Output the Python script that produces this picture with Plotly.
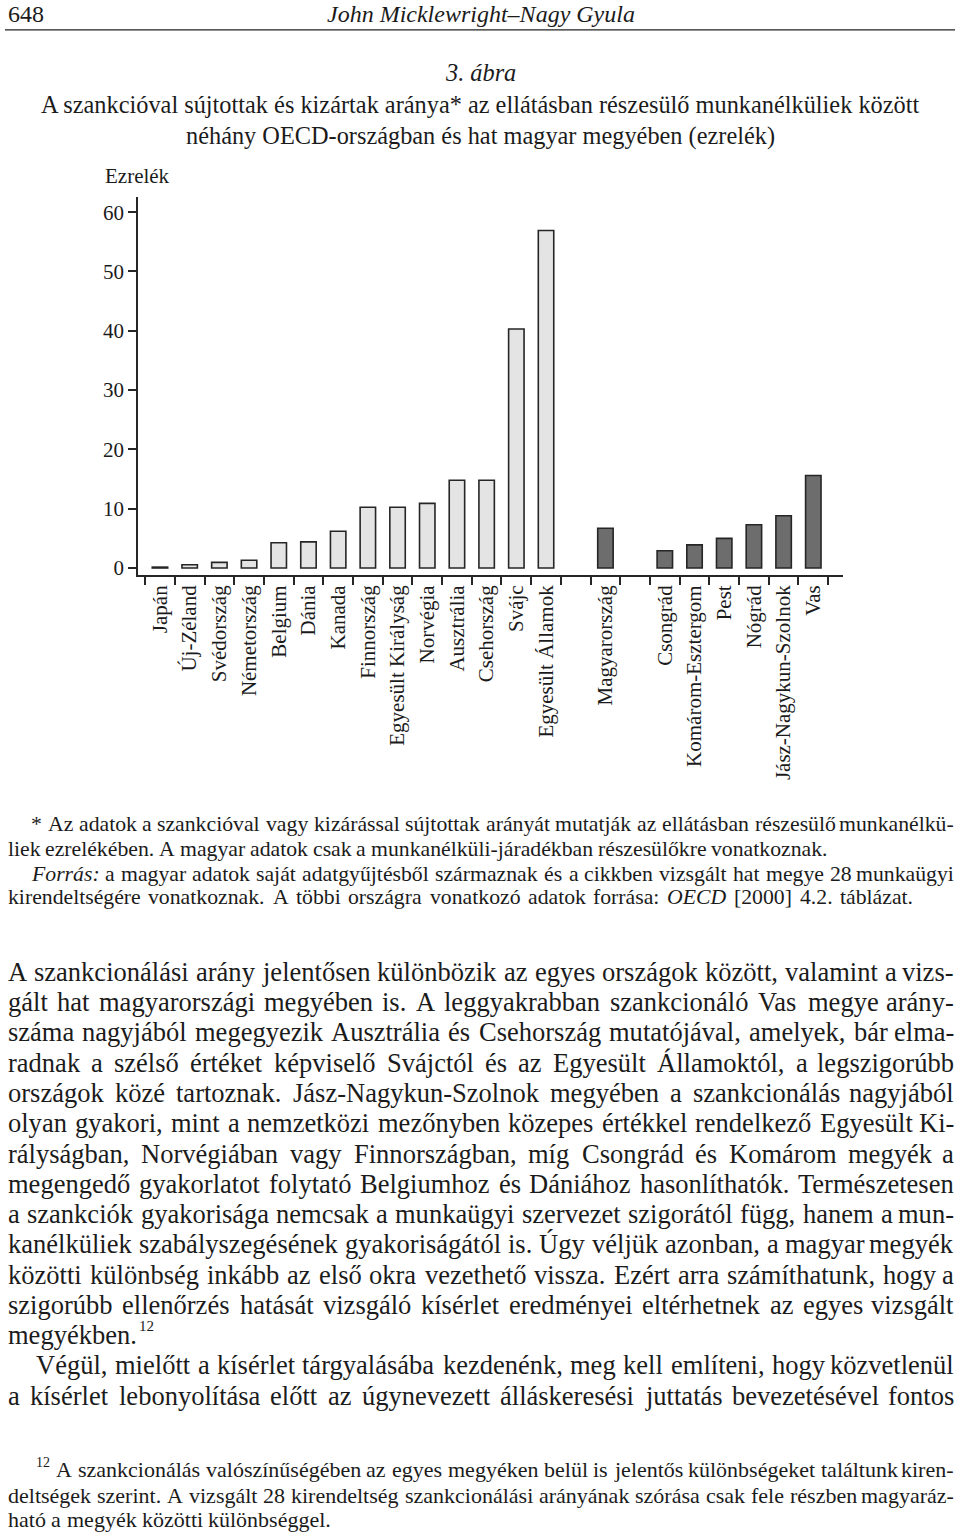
import unicodedata
import plotly.graph_objects as go

PAGE_W, PAGE_H = 960, 1537

# ---------------- chart data ----------------
countries = ["Japán", "Új-Zéland", "Svédország", "Németország", "Belgium", "Dánia",
             "Kanada", "Finnország", "Egyesült Királyság", "Norvégia", "Ausztrália",
             "Csehország", "Svájc", "Egyesült Államok"]
country_vals = [0.15, 0.55, 0.95, 1.3, 4.25, 4.4, 6.2, 10.25, 10.25, 10.9, 14.8, 14.8, 40.3, 56.9]

hungary = ["Magyarország"]
hungary_vals = [6.7]

counties = ["Csongrád", "Komárom-Esztergom", "Pest", "Nógrád", "Jász-Nagykun-Szolnok", "Vas"]
county_vals = [2.9, 3.9, 5.0, 7.3, 8.8, 15.6]

spacers = [" ", "  "]
category_order = countries + [spacers[0]] + hungary + [spacers[1]] + counties
y_ticks = [0, 10, 20, 30, 40, 50, 60]

# ---------------- page text ----------------
header_page = "648"
header_author = "John Micklewright–Nagy Gyula"
fig_no = "3. ábra"
title_lines = ["A szankcióval sújtottak és kizártak aránya* az ellátásban részesülő munkanélküliek között",
               "néhány OECD-országban és hat magyar megyében (ezrelék)"]
y_label = "Ezrelék"

note_lines = [
    "* Az adatok a szankcióval vagy kizárással sújtottak arányát mutatják az ellátásban részesülő munkanélkü-",
    "liek ezrelékében. A magyar adatok csak a munkanélküli-járadékban részesülőkre vonatkoznak.",
    "_Forrás:_ a magyar adatok saját adatgyűjtésből származnak és a cikkben vizsgált hat megye 28 munkaügyi",
    "kirendeltségére vonatkoznak. A többi országra vonatkozó adatok forrása: _OECD_ [2000] 4.2. táblázat.",
]
body_lines = [
    "A szankcionálási arány jelentősen különbözik az egyes országok között, valamint a vizs-",
    "gált hat magyarországi megyében is. A leggyakrabban szankcionáló Vas megye arány-",
    "száma nagyjából megegyezik Ausztrália és Csehország mutatójával, amelyek, bár elma-",
    "radnak a szélső értéket képviselő Svájctól és az Egyesült Államoktól, a legszigorúbb",
    "országok közé tartoznak. Jász-Nagykun-Szolnok megyében a szankcionálás nagyjából",
    "olyan gyakori, mint a nemzetközi mezőnyben közepes értékkel rendelkező Egyesült Ki-",
    "rályságban, Norvégiában vagy Finnországban, míg Csongrád és Komárom megyék a",
    "megengedő gyakorlatot folytató Belgiumhoz és Dániához hasonlíthatók. Természetesen",
    "a szankciók gyakorisága nemcsak a munkaügyi szervezet szigorától függ, hanem a mun-",
    "kanélküliek szabályszegésének gyakoriságától is. Úgy véljük azonban, a magyar megyék",
    "közötti különbség inkább az első okra vezethető vissza. Ezért arra számíthatunk, hogy a",
    "szigorúbb ellenőrzés hatását vizsgáló kísérlet eredményei eltérhetnek az egyes vizsgált",
    "megyékben.",
    "Végül, mielőtt a kísérlet tárgyalásába kezdenénk, meg kell említeni, hogy közvetlenül",
    "a kísérlet lebonyolítása előtt az úgynevezett álláskeresési juttatás bevezetésével fontos",
]
footnote_mark = "12"
footnote_lines = [
    "A szankcionálás valószínűségében az egyes megyéken belül is jelentős különbségeket találtunk kiren-",
    "deltségek szerint. A vizsgált 28 kirendeltség szankcionálási arányának szórása csak fele részben magyaráz-",
    "ható a megyék közötti különbséggel.",
]

# ---------------- layout geometry (pixels) ----------------
note_geo = [(30, 955, 827, True), (7, 820, 852, False), (30, 955, 877, True), (7, 912, 900, False)]
body_y0, body_dy = 975, 30.38
body_geo = []
for i in range(len(body_lines)):
    x0 = 35 if i == 13 else 7
    body_geo.append((x0, 955, body_y0 + i * body_dy, i != 12))
foot_geo = [(55, 955, 1474, True), (7, 955, 1500, True), (7, 330, 1524, False)]

# ---------------- font metrics (Times / Liberation Serif) ----------------
RM = {' ': 250, '!': 333, '"': 408, '%': 833, '&': 778, "'": 180, '(': 333, ')': 333, '*': 500,
      '+': 564, ',': 250, '-': 333, '.': 250, '/': 278, ':': 278, ';': 278, '?': 444, '[': 333,
      ']': 333, '–': 500,
      'A': 722, 'B': 667, 'C': 667, 'D': 722, 'E': 611, 'F': 556, 'G': 722, 'H': 722, 'I': 333,
      'J': 389, 'K': 722, 'L': 611, 'M': 889, 'N': 722, 'O': 722, 'P': 556, 'Q': 722, 'R': 667,
      'S': 556, 'T': 611, 'U': 722, 'V': 722, 'W': 944, 'X': 722, 'Y': 722, 'Z': 611,
      'a': 444, 'b': 500, 'c': 444, 'd': 500, 'e': 444, 'f': 333, 'g': 500, 'h': 500, 'i': 278,
      'j': 278, 'k': 500, 'l': 278, 'm': 778, 'n': 500, 'o': 500, 'p': 500, 'q': 500, 'r': 333,
      's': 389, 't': 278, 'u': 500, 'v': 500, 'w': 722, 'x': 500, 'y': 500, 'z': 444}
for d in "0123456789":
    RM[d] = 500
IT = dict(RM)
IT.update({'a': 500, 'b': 500, 'c': 444, 'd': 500, 'e': 444, 'f': 278, 'g': 500, 'h': 500, 'i': 278,
           'j': 278, 'k': 444, 'l': 278, 'm': 722, 'n': 500, 'o': 500, 'p': 500, 'q': 500, 'r': 389,
           's': 389, 't': 278, 'u': 500, 'v': 444, 'w': 667, 'x': 444, 'y': 444, 'z': 389,
           'A': 611, 'B': 611, 'C': 667, 'D': 722, 'E': 611, 'F': 611, 'G': 722, 'H': 722, 'I': 333,
           'J': 444, 'K': 667, 'L': 556, 'M': 833, 'N': 667, 'O': 722, 'P': 611, 'Q': 722, 'R': 611,
           'S': 500, 'T': 556, 'U': 722, 'V': 611, 'W': 833, 'X': 611, 'Y': 556, 'Z': 556, ':': 333})


def units(s, italic=False):
    tbl = IT if italic else RM
    tot = 0
    for ch in s:
        if ch in tbl:
            tot += tbl[ch]
        else:
            b = unicodedata.normalize('NFD', ch)[0]
            tot += tbl.get(b, 500)
    return tot


def split_words(line):
    out = []
    for w in line.split(" "):
        if w.startswith("_") and w.endswith("_"):
            out.append((w[1:-1], True))
        else:
            out.append((w, False))
    return out


FONT = "Liberation Serif"
INK = "#1b1b1b"
annotations = []


def px(x):
    return x / PAGE_W


def py(y):
    return 1 - y / PAGE_H


def add_text(text, x, y, size, anchor="left", italic=False):
    t = "<i>%s</i>" % text if italic else text
    annotations.append(dict(x=px(x), y=py(y), xref="paper", yref="paper", xanchor=anchor,
                            yanchor="middle", text=t, showarrow=False, borderpad=0,
                            font=dict(family=FONT, size=size, color=INK)))


MIN_SPACE = 260  # minimal word space, 1/1000 em


def block_size(lines, geo, cap):
    s = cap
    for line, (x0, x1, y, just) in zip(lines, geo):
        if not just:
            continue
        ws = split_words(line)
        u = sum(units(w, it) for w, it in ws) + (len(ws) - 1) * MIN_SPACE
        s = min(s, (x1 - x0) * 1000.0 / u)
    return s


def set_line(line, x0, x1, y, size, just):
    ws = split_words(line)
    widths = [units(w, it) * size / 1000.0 for w, it in ws]
    n = len(ws)
    if n == 1:
        add_text(ws[0][0], x0, y, size, italic=ws[0][1])
        return x0 + widths[0]
    gap = (x1 - x0 - sum(widths)) / (n - 1)
    if not just:
        gap = max(0.22 * size, min(gap, 0.4 * size))
    x = x0
    for i, ((w, it), wd) in enumerate(zip(ws, widths)):
        if just and i == n - 1:
            add_text(w, x1, y, size, anchor="right", italic=it)
        else:
            add_text(w, x, y, size, italic=it)
        x += wd + gap
    return x - gap


# header
hsize = min(24, 342 * 1000.0 / units(header_author, True))
add_text(header_page, 7, 14, hsize)
add_text(header_author, 481, 14, hsize, anchor="center", italic=True)

# caption
tsize = min(26, 880 * 1000.0 / units(title_lines[0]))
add_text(fig_no, 480, 73, tsize, anchor="center", italic=True)
add_text(title_lines[0], 480, 105, tsize, anchor="center")
add_text(title_lines[1], 480, 136, tsize, anchor="center")
add_text(y_label, 104, 177, 21)

# notes under the chart
nsize = block_size(note_lines, note_geo, 22.5)
for line, (x0, x1, y, just) in zip(note_lines, note_geo):
    set_line(line, x0, x1, y, nsize, just)

# body
bsize = block_size(body_lines, body_geo, 27.5)
for i, (line, (x0, x1, y, just)) in enumerate(zip(body_lines, body_geo)):
    end = set_line(line, x0, x1, y, bsize, just)
    if i == 12:
        add_text(footnote_mark, end + 2, y - 9, 15)

# footnote
fsize = block_size(footnote_lines, foot_geo, 22.5)
add_text(footnote_mark, 35, 1467, 14)
for line, (x0, x1, y, just) in zip(footnote_lines, foot_geo):
    set_line(line, x0, x1, y, fsize, just)

# ---------------- chart ----------------
LINE = "#262626"
fig = go.Figure()
fig.add_trace(go.Bar(x=countries, y=country_vals, width=0.52, showlegend=False,
                     marker=dict(color="#e4e4e4", line=dict(color=LINE, width=1.6))))
fig.add_trace(go.Bar(x=hungary + counties, y=hungary_vals + county_vals, width=0.52, showlegend=False,
                     marker=dict(color="#6d6d6d", line=dict(color=LINE, width=1.6))))
fig.add_trace(go.Scatter(x=spacers, y=[None, None], mode="markers", showlegend=False, hoverinfo="skip"))

fig.update_layout(
    width=PAGE_W, height=PAGE_H,
    margin=dict(l=0, r=0, t=0, b=0),
    paper_bgcolor="white", plot_bgcolor="white",
    barmode="overlay",
    showlegend=False,
    annotations=annotations,
    shapes=[dict(type="line", xref="paper", yref="paper", x0=px(5), x1=px(955), y0=py(30), y1=py(30),
                 line=dict(color="#222222", width=1.3))],
    xaxis=dict(type="category", categoryorder="array", categoryarray=category_order,
               range=[-0.74, 23.0], domain=[138 / PAGE_W, 843 / PAGE_W],
               showline=True, linecolor=LINE, linewidth=1.6, mirror=False,
               ticks="outside", tickson="boundaries", ticklen=8, tickwidth=1.5, tickcolor=LINE,
               tickangle=-90, tickfont=dict(family=FONT, size=21, color=INK),
               showgrid=False, zeroline=False, fixedrange=True),
    yaxis=dict(range=[-1.2, 62.5], domain=[1 - 577 / PAGE_H, 1 - 198 / PAGE_H],
               tickmode="array", tickvals=y_ticks, ticktext=[str(v) for v in y_ticks],
               showline=True, linecolor=LINE, linewidth=1.6,
               ticks="outside", ticklen=8, tickwidth=1.5, tickcolor=LINE,
               tickfont=dict(family=FONT, size=21, color=INK),
               showgrid=False, zeroline=False, fixedrange=True),
)

fig.write_html("out.html")
